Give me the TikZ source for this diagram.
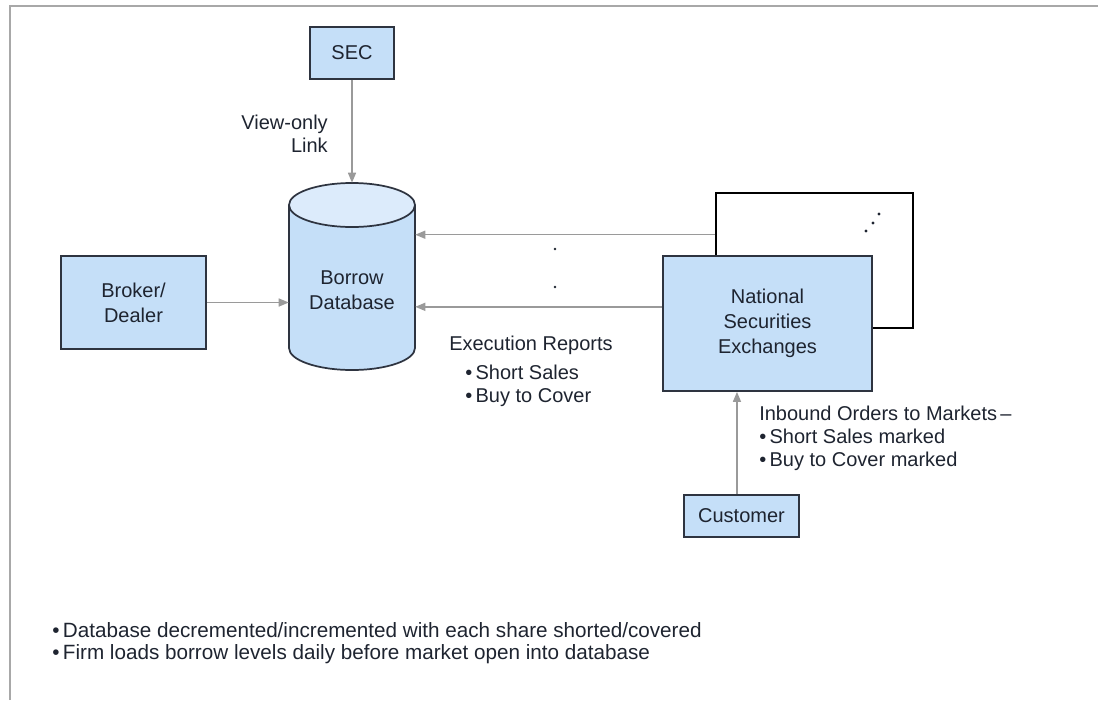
\documentclass[tikz,border=0pt]{standalone}
\usepackage{fontspec}
\setmainfont{Liberation Sans}
\usetikzlibrary{arrows.meta,calc}
\definecolor{boxblue}{HTML}{C5DFF8}
\definecolor{topblue}{HTML}{DCEBFB}
\definecolor{edge}{HTML}{2E3440}
\definecolor{arrowgray}{HTML}{9A9A9A}
\definecolor{framegray}{HTML}{A8A8A8}
\definecolor{txt}{HTML}{1E2430}
\begin{document}
\begin{tikzpicture}[x=0.75pt,y=0.75pt,
  every node/.style={font=\fontsize{15}{18.75}\selectfont, text=txt},
  bluebox/.style={draw=edge, line width=1.3pt, fill=boxblue, inner sep=0, align=center},
  backbox/.style={draw=black, line width=1.1pt, fill=white, inner sep=0},
  arr/.style={draw=arrowgray, line width=1.1pt, -{Triangle[length=7.5pt,width=6pt]}},
  txtblock/.style={inner sep=0, align=left, font=\fontsize{15}{17.25}\selectfont},
  dotmark/.style={fill=txt},
]
\useasboundingbox (0,0) rectangle (1098,-700);
% frame
\draw[framegray, line width=1.5pt] (10,-700) -- (10,-5.5) -- (1098,-5.5);

% nodes
\node[bluebox, minimum width=63pt, minimum height=39pt] (sec) at (352,-53) {SEC};
\node[bluebox, minimum width=108.75pt, minimum height=69.75pt] (broker) at (133.5,-302.5) {Broker/\\Dealer};
\node[backbox, minimum width=147.75pt, minimum height=101.25pt] (back) at (814.5,-260.5) {};
\node[bluebox, minimum width=156.75pt, minimum height=101.25pt] (nse) at (767.5,-323.5) {National\\Securities\\Exchanges};
\node[bluebox, minimum width=86.25pt, minimum height=31.5pt] (cust) at (741.5,-516) {Customer};

% cylinder (Borrow Database)
\fill[boxblue] (289,-205) -- (289,-348) arc[start angle=180,end angle=360,x radius=63,y radius=22] -- (415,-205) -- cycle;
\fill[topblue] (352,-205) ellipse [x radius=63, y radius=22];
\draw[edge, line width=1.3pt] (289,-205) -- (289,-348) arc[start angle=180,end angle=360,x radius=63,y radius=22] -- (415,-205);
\draw[edge, line width=1.3pt] (352,-205) ellipse [x radius=63, y radius=22];
\node[inner sep=0, minimum width=94.5pt, minimum height=140.25pt] (db) at (352,-276.5) {};
\node[inner sep=0, align=center] (dbtext) at (352,-290) {Borrow\\Database};

% dots
\fill[dotmark] (555,-249) circle (1.4);
\fill[dotmark] (555,-287) circle (1.4);
\fill[dotmark] (866,-231) circle (1.6);
\fill[dotmark] (873,-223) circle (1.6);
\fill[dotmark] (879,-214) circle (1.6);

% connectors
\draw[arr] (sec.south) -- (db.north);
\draw[arr] (broker.east) -- (broker.east -| db.west);
\coordinate (bk) at ($(back.north west)!0.311!(back.south west)$);
\draw[arr] (bk) -- (bk -| db.east);
\coordinate (nw) at ($(nse.north west)!0.378!(nse.south west)$);
\draw[arr] (nw) -- (nw -| db.east);
\draw[arr] ([xshift=-3.4pt]cust.north) -- ([xshift=-3.4pt]cust.north |- nse.south);

% labels
\node[txtblock, anchor=east, align=right] (view) at (328,-133.5) {View-only\\Link};
\node[txtblock, anchor=west] (exec) at (449,-345) {Execution Reports};
\node[txtblock, anchor=west] (execlist) at (465,-385.5) {•\,Short Sales\\•\,Buy to Cover};
\node[txtblock, anchor=west] (inbound) at (759,-438) {Inbound Orders to Markets\,–\\•\,Short Sales marked\\•\,Buy to Cover marked};
\node[txtblock, anchor=west, font=\fontsize{15.5}{16.5}\selectfont] (notes) at (52,-643) {•\,Database decremented/incremented with each share shorted/covered\\•\,Firm loads borrow levels daily before market open into database};
\end{tikzpicture}
\end{document}
